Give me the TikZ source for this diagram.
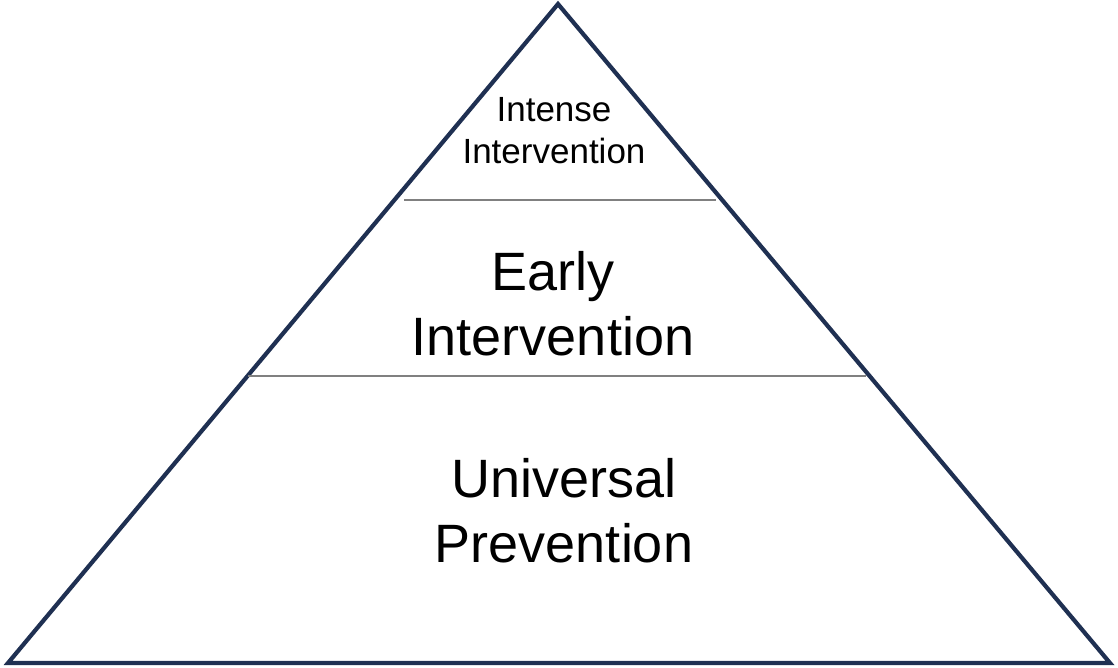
\documentclass[tikz,border=0pt]{standalone}
\usepackage{fontspec}
\setmainfont{Liberation Sans}
\definecolor{navy}{HTML}{1F3052}
\definecolor{divgray}{HTML}{808080}
\begin{document}
\begin{tikzpicture}[x=1pt,y=-1pt,
  tri/.style={draw=navy,line width=4.2pt,line join=miter},
  divider/.style={draw=divgray,line width=1.3pt},
  small/.style={align=center,inner sep=0pt,font=\fontsize{35}{42}\selectfont},
  large/.style={align=center,inner sep=0pt,font=\fontsize{54}{65}\selectfont}]
\useasboundingbox (0,0) rectangle (1118,667);
\coordinate (apex) at (558,4);
\coordinate (bl) at (8,663);
\coordinate (br) at (1110,663);
\draw[tri] (apex) -- (br) -- (bl) -- cycle;
\coordinate (d1l) at (404,200);
\coordinate (d1r) at (716,200);
\coordinate (d2l) at (248,376);
\coordinate (d2r) at (866,376);
\draw[divider] (d1l) -- (d1r);
\draw[divider] (d2l) -- (d2r);
\node[small] (intense) at (554,131) {Intense\\Intervention};
\node[large] (early) at (553,304) {Early\\Intervention};
\node[large] (universal) at (564,511) {Universal\\Prevention};
\end{tikzpicture}
\end{document}
